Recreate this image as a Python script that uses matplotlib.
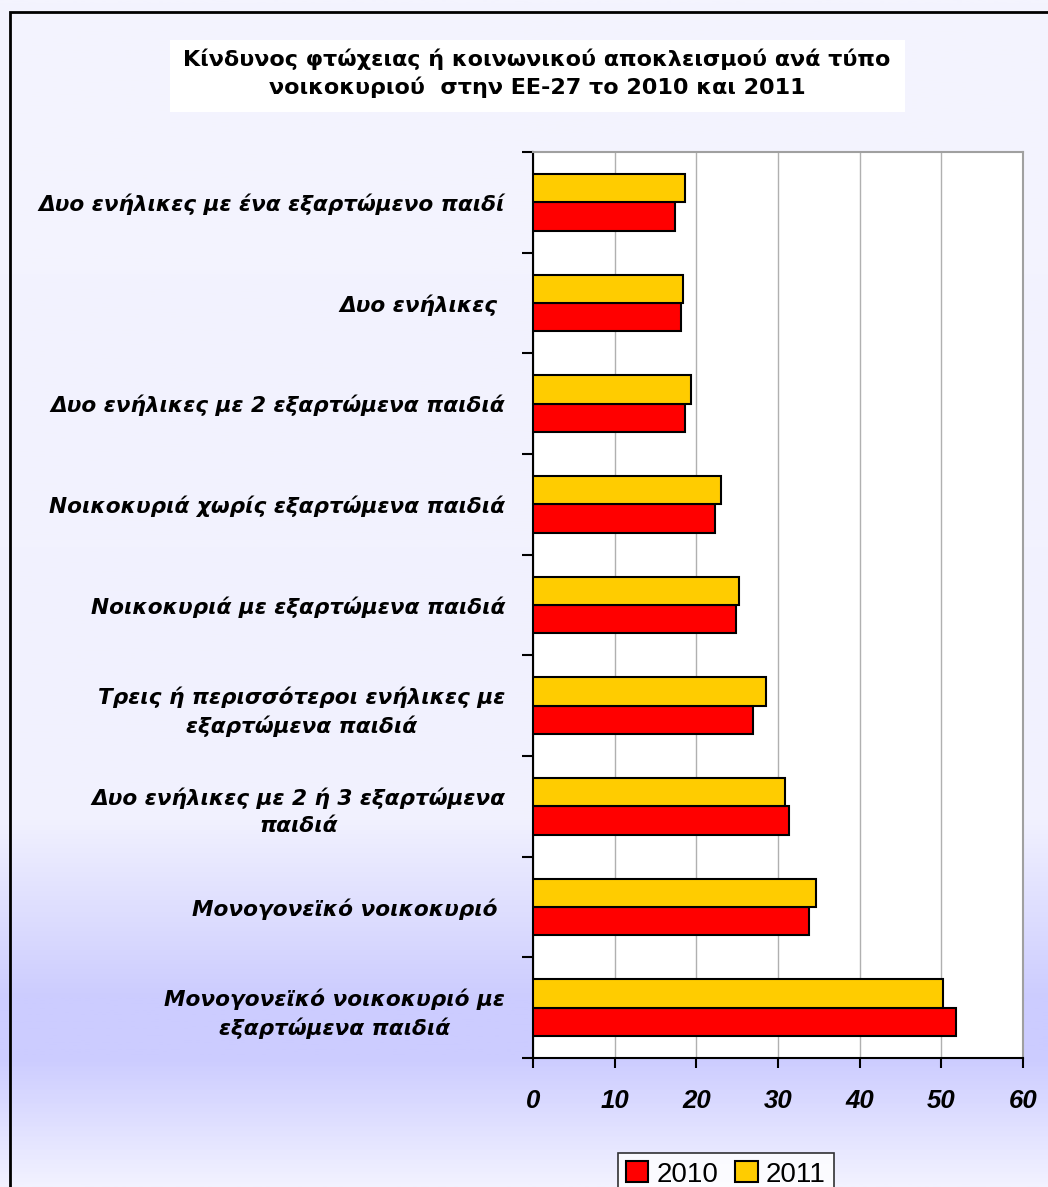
import matplotlib.pyplot as plt
import numpy as np
from matplotlib.colors import LinearSegmentedColormap
from matplotlib.patches import Rectangle

plt.rcParams['font.family'] = ['Liberation Sans', 'DejaVu Sans']

# data (top to bottom)
categories = [
    "Δυο ενήλικες με ένα εξαρτώμενο παιδί",
    "Δυο ενήλικες ",
    "Δυο ενήλικες με 2 εξαρτώμενα παιδιά",
    "Νοικοκυριά χωρίς εξαρτώμενα παιδιά",
    "Νοικοκυριά με εξαρτώμενα παιδιά",
    "Τρεις ή περισσότεροι ενήλικες με\nεξαρτώμενα παιδιά",
    "Δυο ενήλικες με 2 ή 3 εξαρτώμενα\nπαιδιά",
    "Μονογονεϊκό νοικοκυριό ",
    "Μονογονεϊκό νοικοκυριό με\nεξαρτώμενα παιδιά",
]
values_2010 = [17.4, 18.1, 18.6, 22.3, 24.8, 27.0, 31.4, 33.8, 51.8]
values_2011 = [18.6, 18.4, 19.4, 23.0, 25.2, 28.5, 30.9, 34.6, 50.2]
xticks = [0, 10, 20, 30, 40, 50, 60]

W, H = 1048, 1187
fig = plt.figure(figsize=(W / 100, H / 100), dpi=100)

# background gradient (light lavender, darker band near the bottom)
bg = fig.add_axes([0, 0, 1, 1], zorder=-10)
stops = [(0.0, "#f4f4fe"), (820 / H, "#f1f1fe"), (1000 / H, "#ccccff"),
         (1060 / H, "#ccccff"), (1.0, "#f2f2ff")]
cmap = LinearSegmentedColormap.from_list("bg", stops)
grad = np.linspace(0, 1, 512).reshape(-1, 1)
bg.imshow(grad, aspect="auto", cmap=cmap, extent=[0, 1, 1, 0])
bg.set_xlim(0, 1)
bg.set_ylim(1, 0)
bg.axis("off")

# outer frame
fig.add_artist(Rectangle((10 / W, -0.1), 1.2, 1.1 - 12 / H, transform=fig.transFigure,
                         fill=False, edgecolor="black", linewidth=2))

# title box + title
fig.add_artist(Rectangle((170 / W, 1 - 112 / H), 735 / W, 72 / H, transform=fig.transFigure,
                         facecolor="white", edgecolor="none"))
fig.text(537 / W, 1 - 73 / H,
         "Κίνδυνος φτώχειας ή κοινωνικού αποκλεισμού ανά τύπο\nνοικοκυριού  στην ΕΕ-27 το 2010 και 2011",
         ha="center", va="center", fontsize=16, fontweight="bold", linespacing=1.4,
         family="DejaVu Sans")

ax = fig.add_axes([533 / W, 1 - 1058 / H, 490 / W, 906 / H])
ax.set_facecolor("white")

y = np.arange(len(categories))
h = 0.28
ax.barh(y + h / 2, values_2010, height=h, color="#ff0000", edgecolor="black",
        linewidth=1.5, label="2010", zorder=3)
ax.barh(y - h / 2, values_2011, height=h, color="#ffcc00", edgecolor="black",
        linewidth=1.5, label="2011", zorder=3)

ax.set_ylim(len(categories) - 0.5, -0.5)
ax.set_xlim(0, 60)

ax.set_yticks(y)
ax.set_yticklabels(categories, fontsize=15.6, fontweight="bold", fontstyle="italic",
                   multialignment="center", family="DejaVu Sans", linespacing=1.45)
ax.set_yticks(np.arange(-0.5, len(categories), 1), minor=True)
ax.tick_params(axis="y", which="major", length=0, pad=20)
ax.tick_params(axis="y", which="minor", length=8, width=1.5, direction="out")

ax.set_xticks(xticks)
ax.set_xticklabels([str(t) for t in xticks], fontsize=18.5, fontweight="bold", fontstyle="italic")
ax.tick_params(axis="x", length=7, width=1.5, direction="out", pad=15)

ax.grid(axis="x", color="#b0b0b0", linewidth=1, zorder=0)
ax.set_axisbelow(True)
for side in ["left", "bottom"]:
    ax.spines[side].set_color("black")
    ax.spines[side].set_linewidth(1.5)
for side in ["top", "right"]:
    ax.spines[side].set_color("#a0a0a0")
    ax.spines[side].set_linewidth(1.5)

leg = fig.legend(loc="upper center", bbox_to_anchor=(726 / W, 1 - 1139 / H), ncol=2,
                 fontsize=20, frameon=True, fancybox=False, edgecolor="black",
                 handlelength=0.8, handleheight=0.8, handletextpad=0.3, columnspacing=0.6,
                 borderpad=0.3)
leg.get_frame().set_linewidth(1.2)

fig.savefig("out.png", dpi=100)
